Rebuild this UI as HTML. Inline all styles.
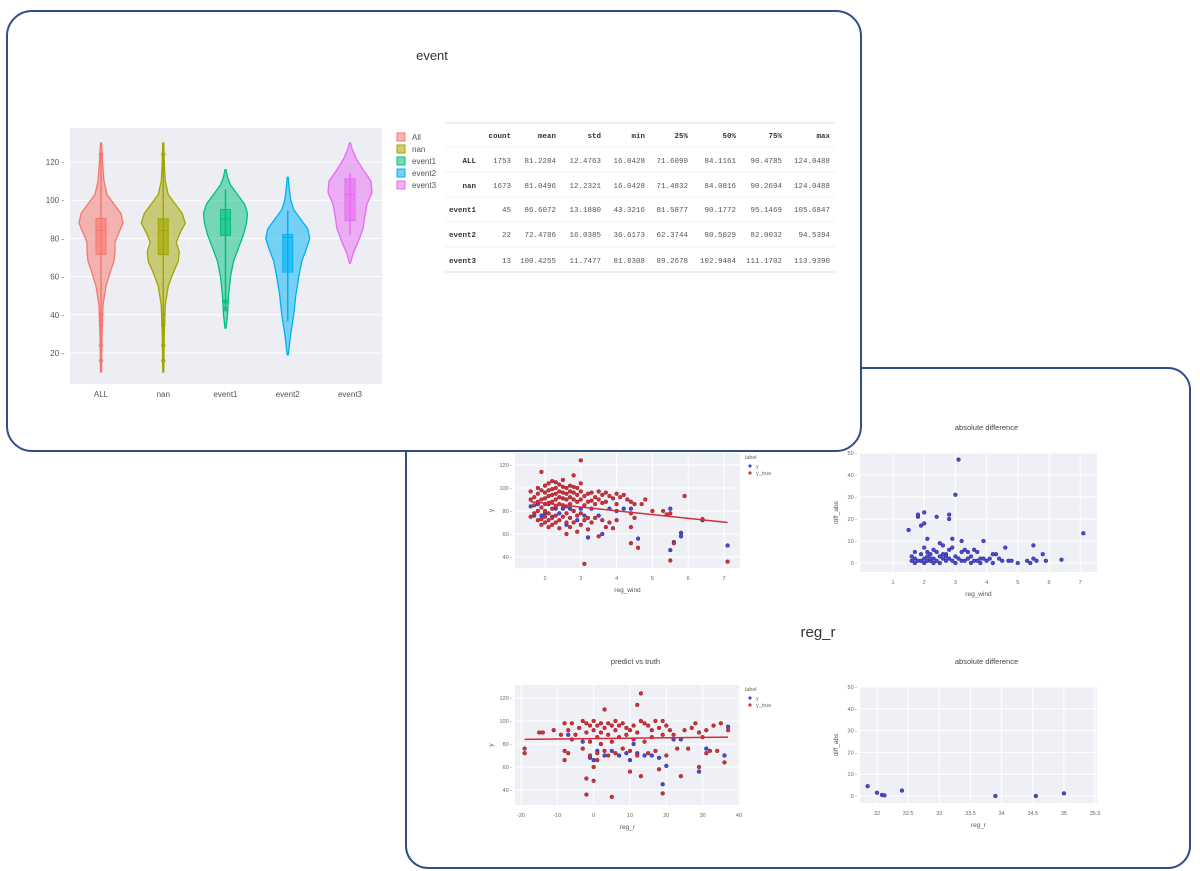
<!DOCTYPE html>
<html><head><meta charset="utf-8"><style>
html,body{margin:0;padding:0;background:#fff;}
svg{display:block;font-family:"Liberation Sans",sans-serif;}
</style></head><body>
<svg id="root" width="1200" height="871" viewBox="0 0 1200 871" xmlns="http://www.w3.org/2000/svg">
<rect x="406" y="368" width="784" height="500" rx="22" fill="#fff" stroke="#2f4e8c" stroke-width="2"/>
<g id="bottom"></g>
<rect x="7" y="11" width="854" height="440" rx="25" fill="#fff" stroke="#2f4e8c" stroke-width="2"/>
<g id="topgrp"></g>
</svg>
<script>
// ---- Violin data ----
const vCats=["ALL","nan","event1","event2","event3"];
const vColors=["#f8766d","#a3a500","#00bf7d","#00b0f6","#e76bf3"];
const vQ1=[71.609,71.4832,81.5877,62.3744,89.2678];
const vMed=[84.1161,84.0816,90.1772,80.5029,102.9484];
const vQ3=[90.4785,90.2694,95.1469,82.0032,111.1702];
const vMin=[16.0428,16.0428,43.3216,36.6173,81.8308];
const vMax=[124.0488,124.0488,105.6847,94.5394,113.939];
const vLevels=[
 [10,30,45,55,62,68,73,78,83,88,93,98,103,110,120,130],
 [10,30,45,55,62,68,73,78,83,88,93,98,103,110,120,130],
 [33,40,50,60,68,75,82,88,93,98,103,108,112,116],
 [19,30,40,50,60,68,75,80,85,90,95,100,106,112],
 [67,72,78,85,92,98,104,110,116,122,127,130]];
const vWidths=[
 [0.5,1,2,5,9,13,14,14,18,22,20,13,6,3,1.5,0.5],
 [0.5,1,2,5,10,15,16,13,17,22,19,12,5,2,1,0.5],
 [0.5,2,3,5,8,13,18,21,22,19,12,5,2,0.5],
 [0.5,3,6,8,11,14,19,22,20,13,6,3,1.5,0.5],
 [0.5,3,8,13,15,17,22,21,13,6,2,0.5]];
const vOutliers=[[16,24,35,37,40,124],[16,24,35,37,40,124],[43,47],[],[]];
const vTicks=[20,40,60,80,100,120];
const tCols=["count","mean","std","min","25%","50%","75%","max"];
const tRows=["ALL","nan","event1","event2","event3"];
const tVals=[
 ["1753","81.2284","12.4763","16.0428","71.6090","84.1161","90.4785","124.0488"],
 ["1673","81.0496","12.2321","16.0428","71.4832","84.0816","90.2694","124.0488"],
 ["45","86.6072","13.1880","43.3216","81.5877","90.1772","95.1469","105.6847"],
 ["22","72.4786","16.0385","36.6173","62.3744","80.5029","82.0032","94.5394"],
 ["13","100.4255","11.7477","81.8308","89.2678","102.9484","111.1702","113.9390"]];
// ---- Scatter data ----
const p1TrueX=[1.6,1.6,1.6,1.7,1.7,1.7,1.8,1.8,1.8,1.8,1.8,1.9,1.9,1.9,1.9,1.9,1.9,2,2,2,2,2,2,2,2.1,2.1,2.1,2.1,2.1,2.1,2.1,2.2,2.2,2.2,2.2,2.2,2.2,2.2,2.3,2.3,2.3,2.3,2.3,2.3,2.3,2.4,2.4,2.4,2.4,2.4,2.4,2.5,2.5,2.5,2.5,2.5,2.5,2.6,2.6,2.6,2.6,2.6,2.6,2.6,2.7,2.7,2.7,2.7,2.7,2.7,2.8,2.8,2.8,2.8,2.8,2.8,2.9,2.9,2.9,2.9,2.9,3,3,3,3,3,3,3.1,3.1,3.1,3.1,3.2,3.2,3.2,3.2,3.3,3.3,3.3,3.4,3.4,3.4,3.5,3.5,3.5,3.6,3.6,3.6,3.7,3.7,3.7,3.8,3.8,3.9,3.9,4,4,4,4.1,4.2,4.3,4.4,4.4,4.4,4.4,4.5,4.5,4.6,4.7,4.8,5,5.3,5.4,5.5,5.5,5.6,5.9,6.4,7.1];
const p1TrueY=[90,97,75,92,85,78,100,95,88,80,72,114,98,90,83,73,68,102,96,91,86,80,75,70,104,98,93,87,78,72,66,106,99,94,88,82,74,68,105,100,95,90,84,76,70,103,97,92,86,72,65,107,101,96,91,85,75,100,95,90,84,78,70,60,102,97,92,86,74,66,111,101,96,90,80,70,100,94,88,76,62,124,104,97,90,78,68,34,93,85,72,95,88,74,64,96,89,70,92,86,74,97,90,58,94,87,72,96,88,66,93,70,91,65,95,86,72,92,94,90,88,78,66,52,86,74,48,86,90,80,80,77,37,78,52,93,73,36];
const p1PredX=[1.6,1.7,1.8,1.9,2,2.1,2.2,2.3,2.4,2.5,2.6,2.7,2.8,2.9,3,3.1,3.2,3.3,3.5,3.6,3.8,4,4.2,4.4,4.6,5.5,5.5,5.6,5.8,5.8,6.4,7.1];
const p1PredY=[84,76,86,76,78,86,75,82,78,82,68,82,80,72,82,76,57,82,76,60,82,80,82,82,56,46,82,53,58,61,72,50];
const p1FitX=[1.6,7.1];
const p1FitY=[88,70];
const p2X=[1.5,1.6,1.7,1.7,1.8,1.8,1.8,1.9,1.9,2,2,2,2,2.1,2.1,2.1,2.2,2.2,2.3,2.3,2.4,2.4,2.4,2.5,2.5,2.6,2.6,2.7,2.7,2.8,2.8,2.8,2.8,2.9,2.9,2.9,3,3,3.1,3.1,3.2,3.2,3.3,3.3,3.4,3.5,3.6,3.7,3.7,3.9,3.9,4,4.2,4.3,4.4,4.5,4.6,4.7,4.8,5,5.3,5.4,5.5,5.5,5.6,5.8,5.9,6.4,7.1,1.6,1.7,1.9,2,2.1,2.2,2.3,2.5,2.6,2.7,3,3.2,3.4,3.5,3.6,3.8,3.8,4.1,4.2];
const p2Y=[15,1,5,2,21,22,1,17,4,23,18,7,2,11,5,1,4,1,6,2,21,5,1,9,3,8,2,4,1,22,20,6,2,11,7,1,31,3,47,2,10,5,6,1,5,3,6,5,1,10,2,1,4,4,2,1,7,1,1,0,1,0,8,2,1,4,1,1.5,13.5,3,0,1,0,3,2,0,0,4,3,0,1,2,0,1,2,0,2,0];
const p3TrueX=[-19,-19,-15,-14,-11,-9,-8,-8,-8,-7,-7,-6,-6,-5,-4,-3,-3,-2,-2,-2,-2,-1,-1,-1,0,0,0,0,1,1,1,1,2,2,2,3,3,3,4,4,4,5,5,5,6,6,6,7,7,8,8,9,9,10,10,10,11,11,12,12,12,13,13,13,14,14,15,15,16,16,17,17,18,18,19,19,19,20,20,21,22,23,24,25,26,27,28,29,29,30,31,31,32,33,34,35,36,37];
const p3TrueY=[76,72,90,90,92,88,98,66,74,92,72,98,84,88,94,100,76,98,90,50,36,96,82,70,100,92,60,48,96,86,72,66,98,90,80,110,94,74,98,88,70,96,82,34,100,92,72,96,86,98,76,94,88,92,74,56,96,84,114,90,70,124,100,52,98,82,96,72,92,86,100,74,94,58,100,88,37,96,70,92,88,76,52,92,76,94,98,90,60,86,92,72,74,96,74,98,64,92];
const p3PredX=[-7,-3,-1,0,1,3,5,7,9,10,11,12,14,16,18,19,20,22,24,29,31,36,37];
const p3PredY=[88,82,68,66,74,70,74,70,72,66,80,72,70,70,68,45,61,84,84,56,76,70,95];
const p3FitX=[-19,37];
const p3FitY=[84,86];
const p4X=[31.85,32,32.08,32.12,32.4,33.9,34.55,35];
const p4Y=[4.5,1.5,0.5,0.3,2.5,0,0,1.2];

const NS="http://www.w3.org/2000/svg";
function mk(parent,tag,attrs,text){const e=document.createElementNS(NS,tag);for(const k in attrs)e.setAttribute(k,attrs[k]);if(text!==undefined)e.textContent=text;parent.appendChild(e);return e;}
const topG=document.getElementById('topgrp'), botG=document.getElementById('bottom');

// ---- Violin chart ----
const vx=i=>101+i*62.25, vy=v=>162+(120-v)*1.91;
let t=mk(topG,'text',{x:432,y:60,'text-anchor':'middle','font-size':13,fill:'#333'},'event');


let bg=mk(topG,'rect',{x:70,y:128,width:312,height:256,fill:'#eceef3'});


vTicks.forEach(v=>{
 const g=mk(topG,'line',{x1:70,x2:382,y1:vy(v),y2:vy(v),stroke:'#fff','stroke-width':1});
 
 
 const l=mk(topG,'text',{x:64,y:vy(v)+3,'text-anchor':'end','font-size':8,fill:'#555'},v+' -');
 
 
});
vCats.forEach((c,i)=>{
 const cx=vx(i),col=vColors[i],lv=vLevels[i],w=vWidths[i];
 let d='M'+(cx+w[0])+','+vy(lv[0]);
 for(let k=1;k<lv.length;k++)d+=' L'+(cx+w[k])+','+vy(lv[k]);
 for(let k=lv.length-1;k>=0;k--)d+=' L'+(cx-w[k])+','+vy(lv[k]);
 d+='Z';
 const p=mk(topG,'path',{d:d,fill:col,'fill-opacity':0.5,stroke:col,'stroke-width':1.3,'stroke-linejoin':'round'});
 
 
 const wl=mk(topG,'line',{x1:cx,x2:cx,y1:vy(vMin[i]),y2:vy(vMax[i]),stroke:col,'stroke-width':1.5});
 
 
 const b=mk(topG,'rect',{x:cx-5,y:vy(vQ3[i]),width:10,height:vy(vQ1[i])-vy(vQ3[i]),fill:col,'fill-opacity':0.6,stroke:col});
 
 
 const m=mk(topG,'line',{x1:cx-5,x2:cx+5,y1:vy(vMed[i]),y2:vy(vMed[i]),stroke:col,'stroke-width':1});
 
 
 vOutliers[i].forEach(o=>{
  const pt=mk(topG,'circle',{cx:cx,cy:vy(o),r:2.3,fill:col,'fill-opacity':0.8});
  
  
 });
 const xl=mk(topG,'text',{x:cx,y:397,'text-anchor':'middle','font-size':8,fill:'#555'},c);
 
 
 const le=mk(topG,'rect',{x:397,y:133+i*12,width:8,height:8,fill:col,'fill-opacity':0.55,stroke:col});
 
 
 const lt=mk(topG,'text',{x:412,y:140+i*12,'font-size':8,fill:'#555'},c==="ALL"?"All":c);
 
 
});

// ---- Table ----
const colX=[511,556,601,645,688,736,782,830], rowY=[160,185,209,234,260];
[123,147,172,197,222,247,272].forEach(y=>{
 const l=mk(topG,'line',{x1:445,x2:835,y1:y,y2:y,stroke:y===123||y===272?'#ddd':'#f0f0f0','stroke-width':1});
 
 
});
tCols.forEach((c,j)=>{const h=mk(topG,'text',{x:colX[j],y:138,'text-anchor':'end','font-size':7.5,'font-weight':'bold',fill:'#333','font-family':'Liberation Mono, monospace'},c);
 
 });
tRows.forEach((r,i)=>{
 const h=mk(topG,'text',{x:476,y:rowY[i]+3,'text-anchor':'end','font-size':7.5,'font-weight':'bold',fill:'#333','font-family':'Liberation Mono, monospace'},r);
 
 
 tVals[i].forEach((v,j)=>{const c=mk(topG,'text',{x:colX[j],y:rowY[i]+3,'text-anchor':'end','font-size':7.5,fill:'#555','font-family':'Liberation Mono, monospace'},v);
  
  });
});

// ---- Scatter panels ----
function panel(o){
 const g=mk(botG,'g',{});
 
 
 if(o.title){const tt=mk(g,'text',{x:(o.x0+o.x1)/2+8,y:o.titleY,'text-anchor':'middle','font-size':7.5,fill:'#444'},o.title);
  
  }
 const r=mk(g,'rect',{x:o.x0,y:o.y0,width:o.x1-o.x0,height:o.y1-o.y0,fill:'#eef0f6'});
 
 
 o.yt.forEach(v=>{const gl=mk(g,'line',{x1:o.x0,x2:o.x1,y1:o.sy(v),y2:o.sy(v),stroke:'#fff'});
  
  
  const tl=mk(g,'text',{x:o.x0-3,y:o.sy(v)+2,'text-anchor':'end','font-size':5.5,fill:'#666'},v+' -');
  
  });
 o.xt.forEach(v=>{const gl=mk(g,'line',{x1:o.sx(v),x2:o.sx(v),y1:o.y0,y2:o.y1,stroke:'#fff'});
  
  
  const tl=mk(g,'text',{x:o.sx(v),y:o.y1+12,'text-anchor':'middle','font-size':5.5,fill:'#666'},String(v));
  
  });
 const xl=mk(g,'text',{x:(o.x0+o.x1)/2,y:o.y1+24,'text-anchor':'middle','font-size':6.5,fill:'#555'},o.xl);
 
 
 const yx=o.x0-22, yy=(o.y0+o.y1)/2;
 const yl=mk(g,'text',{x:yx,y:yy,'text-anchor':'middle','font-size':6.5,fill:'#555',transform:'rotate(-90 '+yx+' '+yy+')'},o.yl);
 
 
 o.series.forEach(s=>{
  s.xs.forEach((xv,k)=>{const c=mk(g,'circle',{cx:o.sx(xv),cy:o.sy(s.ys[k]),r:1.9,fill:s.color,stroke:s.stroke,'stroke-width':0.5});
   
   });
 });
 if(o.fit){const f=mk(g,'line',{x1:o.sx(o.fit[0][0]),y1:o.sy(o.fit[1][0]),x2:o.sx(o.fit[0][1]),y2:o.sy(o.fit[1][1]),stroke:'#d0303a','stroke-width':1.5});
  
  }
 if(o.legend){
  const lg=mk(g,'text',{x:o.x1+5,y:o.y0+6,'font-size':5.5,fill:'#666'},'label');
  
  
  [['y','#4a4ad0'],['y_true','#d0303a']].forEach((e,k)=>{
   const c=mk(g,'circle',{cx:o.x1+10,cy:o.y0+13+k*7,r:1.6,fill:e[1]});
   
   
   const tx=mk(g,'text',{x:o.x1+16,y:o.y0+15+k*7,'font-size':5.5,fill:'#666'},e[0]);
   
   
  });
 }
}
const BLUE='#4a4ad0',BLS='#2a2a90',RED='#d0303a',RDS='#902028';
panel({name:'wind-predict-vs-truth',x0:515,x1:740,y0:453,y1:568,sx:v=>545+(v-2)*35.8,sy:v=>465+(120-v)*1.15,
 yt:[40,60,80,100,120],xt:[2,3,4,5,6,7],xl:'reg_wind',yl:'y',legend:true,fit:[p1FitX,p1FitY],
 series:[{xs:p1PredX,ys:p1PredY,color:BLUE,stroke:BLS,label:'y'},{xs:p1TrueX,ys:p1TrueY,color:RED,stroke:RDS,label:'y-true'}]});
panel({name:'wind-absolute-difference',title:'absolute difference',titleY:430,x0:860,x1:1097,y0:453,y1:572,sx:v=>893+(v-1)*31.2,sy:v=>563-v*2.2,
 yt:[0,10,20,30,40,50],xt:[1,2,3,4,5,6,7],xl:'reg_wind',yl:'diff_abs',
 series:[{xs:p2X,ys:p2Y,color:BLUE,stroke:BLS,label:'diff-abs'}]});
panel({name:'r-predict-vs-truth',title:'predict vs truth',titleY:664,x0:515,x1:740,y0:685,y1:805,sx:v=>521+(v+20)*3.633,sy:v=>698+(120-v)*1.15,
 yt:[40,60,80,100,120],xt:[-20,-10,0,10,20,30,40],xl:'reg_r',yl:'y',legend:true,fit:[p3FitX,p3FitY],
 series:[{xs:p3PredX,ys:p3PredY,color:BLUE,stroke:BLS,label:'y'},{xs:p3TrueX,ys:p3TrueY,color:RED,stroke:RDS,label:'y-true'}]});
panel({name:'r-absolute-difference',title:'absolute difference',titleY:664,x0:860,x1:1097,y0:687,y1:803,sx:v=>877+(v-32)*62.3,sy:v=>796-v*2.18,
 yt:[0,10,20,30,40,50],xt:[32,32.5,33,33.5,34,34.5,35,35.5],xl:'reg_r',yl:'diff_abs',
 series:[{xs:p4X,ys:p4Y,color:BLUE,stroke:BLS,label:'diff-abs'}]});
const rr=mk(botG,'text',{x:818,y:637,'text-anchor':'middle','font-size':15,fill:'#333'},'reg_r');


</script>
</body></html>
